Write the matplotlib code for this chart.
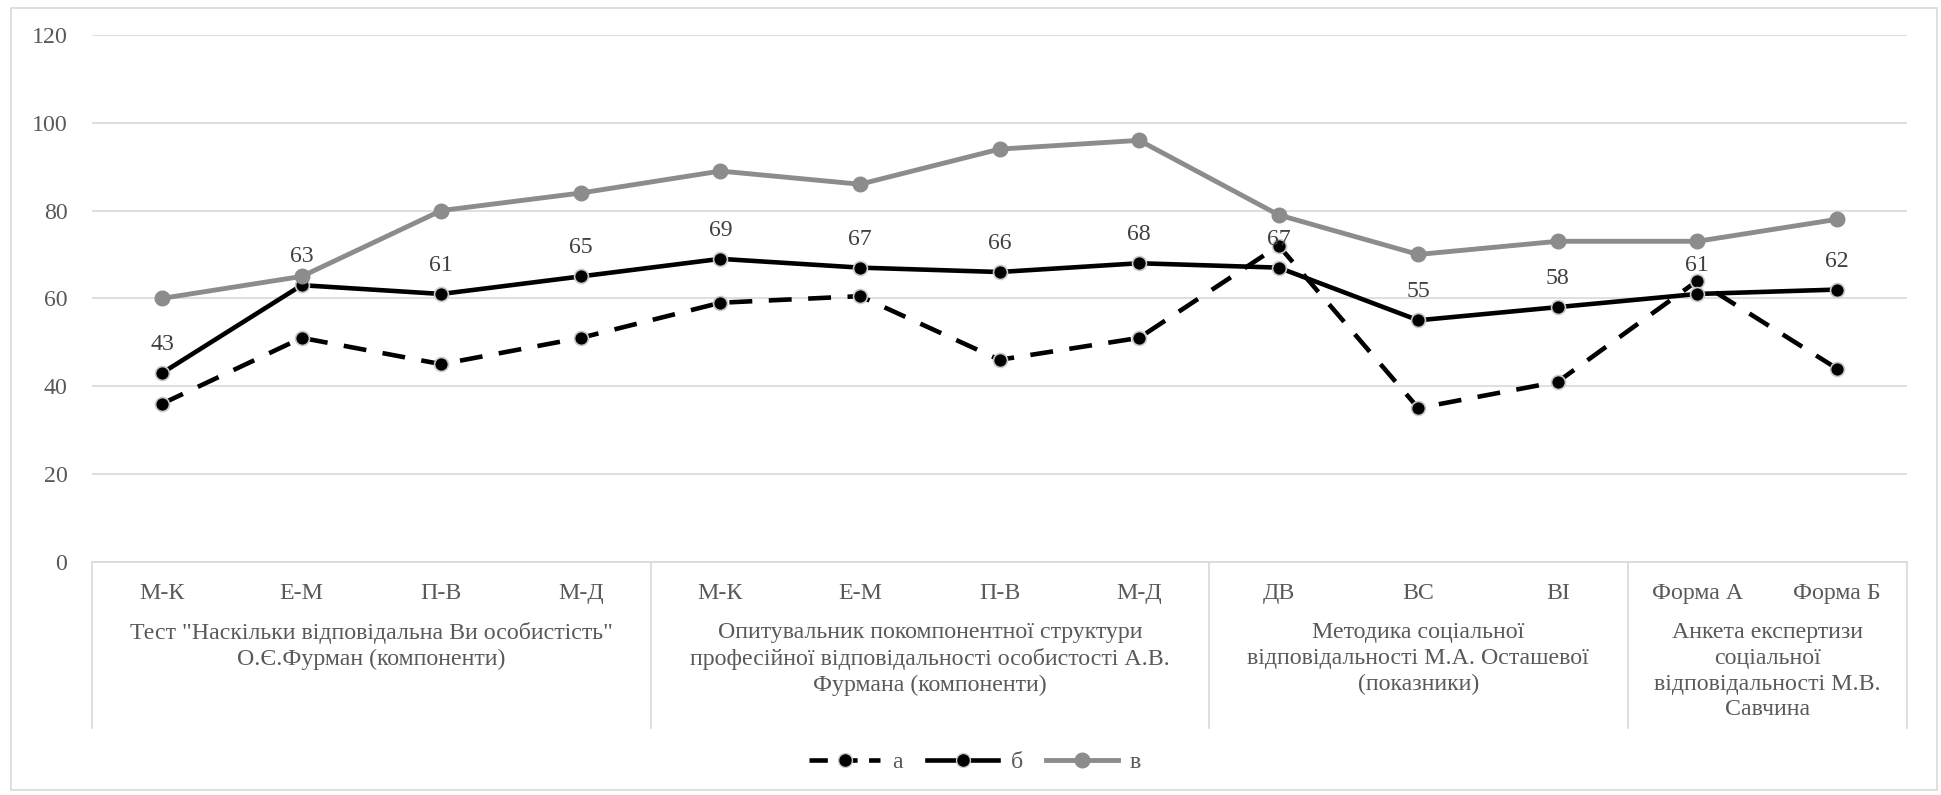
import matplotlib
matplotlib.use("Agg")
import matplotlib.pyplot as plt
from matplotlib.lines import Line2D
from matplotlib.patches import Rectangle

plt.rcParams['font.family'] = ['Liberation Serif', 'DejaVu Serif']

# Category labels along the x axis
categories = ["М-К", "Е-М", "П-В", "М-Д",
              "М-К", "Е-М", "П-В", "М-Д",
              "ДВ", "ВС", "ВІ",
              "Форма А", "Форма Б"]

# Group captions (method names) and the number of categories in each
groups = [
    'Тест "Наскільки відповідальна Ви особистість"\nО.Є.Фурман (компоненти)',
    'Опитувальник покомпонентної структури\nпрофесійної відповідальності особистості А.В.\nФурмана (компоненти)',
    'Методика соціальної\nвідповідальності М.А. Осташевої\n(показники)',
    'Анкета експертизи\nсоціальної\nвідповідальності М.В.\nСавчина',
]
group_sizes = [4, 4, 3, 2]

# Series values
series_a = [36, 51, 45, 51, 59, 60.5, 46, 51, 72, 35, 41, 64, 44]
series_b = [43, 63, 61, 65, 69, 67, 66, 68, 67, 55, 58, 61, 62]
series_v = [60, 65, 80, 84, 89, 86, 94, 96, 79, 70, 73, 73, 78]
series_names = ["а", "б", "в"]
y_ticks = [0, 20, 40, 60, 80, 100, 120]

W, H = 1941, 795
fig = plt.figure(figsize=(W / 100, H / 100), dpi=100)

# axes box in pixels
left_px, right_px, top_px, bottom_px = 92.4, 1906.7, 35.0, 561.7
ax = fig.add_axes([left_px / W, 1 - bottom_px / H,
                   (right_px - left_px) / W, (bottom_px - top_px) / H])

# outer chart frame
fig.patches.append(Rectangle((11 / W, 5 / H), (1937 - 11) / W, (787 - 5) / H,
                             transform=fig.transFigure, fill=False,
                             edgecolor='#d9d9d9', linewidth=1.2))

FS = 17.2
x = list(range(len(categories)))
edge = '#c8c8c8'
ax.plot(x, series_a, color='black', linewidth=3.3, dashes=(5, 3.6),
        marker='o', markersize=10, markerfacecolor='black',
        markeredgecolor=edge, markeredgewidth=1.2, zorder=3, label=series_names[0])
ax.plot(x, series_b, color='black', linewidth=3.3,
        marker='o', markersize=10, markerfacecolor='black',
        markeredgecolor=edge, markeredgewidth=1.2, zorder=4, label=series_names[1])
ax.plot(x, series_v, color='#8c8c8c', linewidth=3.5,
        marker='o', markersize=10.5, markerfacecolor='#8c8c8c',
        markeredgecolor='#8c8c8c', markeredgewidth=1.0, zorder=5, label=series_names[2])

# value labels above series б
for xi, v in zip(x, series_b):
    ax.annotate(f"{v:g}", (xi, v), xytext=(0, 20.5), textcoords='offset points',
                ha='center', va='center', fontsize=FS, color='#404040', zorder=6)

ax.set_xlim(-0.5, len(categories) - 0.5)
ax.set_ylim(0, 120)
ax.set_yticks(y_ticks)
ax.grid(axis='y', color='#d9d9d9', linewidth=1.2)
ax.set_axisbelow(True)
for s in ['top', 'right', 'left']:
    ax.spines[s].set_visible(False)
ax.spines['bottom'].set_color('#d9d9d9')
ax.spines['bottom'].set_linewidth(1.2)
ax.tick_params(axis='y', length=0, pad=18, labelsize=FS, labelcolor='#595959')
ax.set_xticks(x)
ax.set_xticklabels(categories)
ax.tick_params(axis='x', length=0, pad=15, labelsize=FS, labelcolor='#595959')

# group dividers and captions below the axis
ax_h = bottom_px - top_px
def frac(ypx):
    return (bottom_px - ypx) / ax_h

tr = ax.get_xaxis_transform()
start = -0.5
bounds = [start]
for n in group_sizes:
    bounds.append(bounds[-1] + n)
for b in bounds:
    ax.plot([b, b], [0, frac(728)], transform=tr, color='#d9d9d9',
            linewidth=1.2, clip_on=False)
for i, g in enumerate(groups):
    cx = (bounds[i] + bounds[i + 1]) / 2
    ax.text(cx, frac(622), g, transform=tr, ha='center', va='top',
            fontsize=FS, color='#595959', linespacing=1.3, clip_on=False)

handles = [
    Line2D([], [], color='black', linewidth=3.3, dashes=(4, 2.5), marker='o',
           markersize=10, markerfacecolor='black', markeredgecolor=edge),
    Line2D([], [], color='black', linewidth=3.3, marker='o',
           markersize=10, markerfacecolor='black', markeredgecolor=edge),
    Line2D([], [], color='#8c8c8c', linewidth=3.5, marker='o',
           markersize=10.5, markerfacecolor='#8c8c8c', markeredgecolor='#8c8c8c'),
]
fig.legend(handles, series_names, loc='center', ncol=3,
           bbox_to_anchor=(975 / W, 1 - 762 / H), frameon=False,
           fontsize=FS, labelcolor='#595959', handlelength=3.0,
           columnspacing=1.0, handletextpad=0.5)

fig.savefig('out.png', dpi=100, facecolor='white')
